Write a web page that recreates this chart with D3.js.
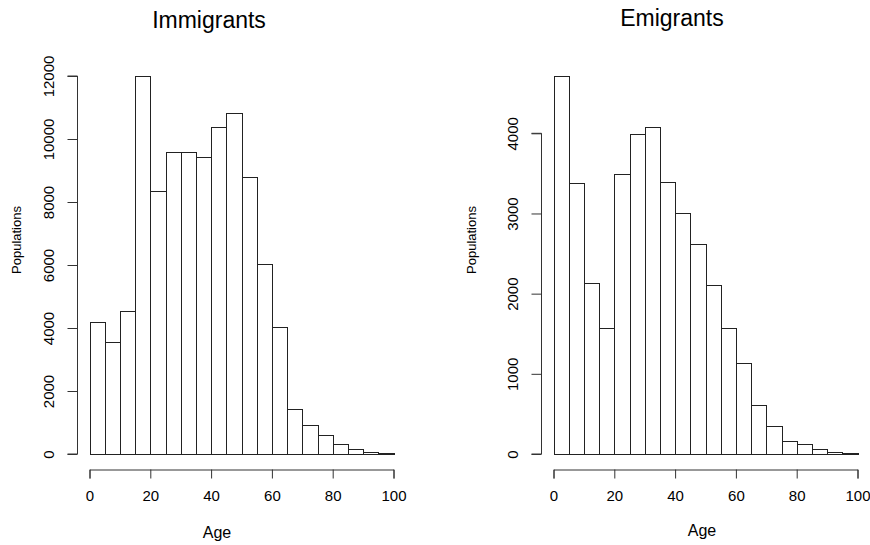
<!DOCTYPE html>
<html>
<head>
<meta charset="utf-8">
<script src="https://cdn.jsdelivr.net/npm/d3@7"></script>
<style>
  body { margin: 0; background: #fff; }
  svg text { font-family: "Liberation Sans", Arial, sans-serif; fill: #000; }
</style>
</head>
<body>
<svg id="chart"></svg>
<script>
const ageBreaks = [0,5,10,15,20,25,30,35,40,45,50,55,60,65,70,75,80,85,90,95,100,105];
const immigrants = [4200,3565,4550,12000,8360,9575,9575,9420,10390,10815,8805,6020,4040,1440,910,590,305,150,75,30,0];
const emigrants = [4713,3383,2128,1567,3495,3986,4073,3395,3001,2622,2103,1567,1130,607,345,166,121,58,29,12,0];
const xTicks = [0,20,40,60,80,100];
const immTicks = [0,2000,4000,6000,8000,10000,12000];
const emiTicks = [0,1000,2000,3000,4000];

const W = 870, H = 545;
const svg = d3.select("#chart").attr("width", W).attr("height", H);

const panels = [
  {title: "Immigrants", counts: immigrants, yTicks: immTicks, yMax: 12000, yTop: 76,
   x0: 89.5, x1: 393.5, axisX: 77, titleX: 209, titleY: 28, ageX: 217, ageY: 538, popX: 21},
  {title: "Emigrants", counts: emigrants, yTicks: emiTicks, yMax: 4000, yTop: 133.3,
   x0: 553.5, x1: 857.5, axisX: 541, titleX: 672, titleY: 26, ageX: 702, ageY: 536, popX: 476}
];

const y0 = 454;

panels.forEach(p => {
  const g = svg.append("g");
  const xScale = d3.scaleLinear().domain([0, 100]).range([p.x0, p.x1]);
  const yScale = d3.scaleLinear().domain([0, p.yMax]).range([y0, p.yTop]);

  const bins = p.counts.map((c, i) => ({lo: ageBreaks[i], hi: ageBreaks[i + 1], c: c}));

  // histogram bars
  g.selectAll("rect.bar")
    .data(bins)
    .enter()
    .append("rect")
    .attr("class", "bar")
    .attr("x", d => Math.round(xScale(d.lo)) + 0.5)
    .attr("y", d => Math.round(yScale(d.c)) + 0.5)
    .attr("width", d => Math.round(xScale(d.hi)) - Math.round(xScale(d.lo)))
    .attr("height", d => Math.round(yScale(0)) - Math.round(yScale(d.c)))
    .attr("fill", "#fff")
    .attr("stroke", "#222")
    .attr("stroke-width", 1);

  // x axis (R style, detached)
  const xAxis = d3.axisBottom(xScale).tickValues(xTicks).tickSize(9).tickPadding(12).tickFormat(d3.format("d"));
  const xg = g.append("g")
    .attr("transform", "translate(0,469.5)")
    .call(xAxis);
  xg.selectAll("text").style("font-size", "15px");
  xg.selectAll("line, path").attr("stroke", "#333");

  // y axis
  const yAxis = d3.axisLeft(yScale).tickValues(p.yTicks).tickSize(10).tickFormat(d3.format("d"));
  const yg = g.append("g")
    .attr("transform", `translate(${p.axisX + 0.5},0)`)
    .call(yAxis);
  yg.select("path.domain").attr("d", `M-10,${yScale(p.yTicks[p.yTicks.length - 1])}H0V${y0}H-10`);
  yg.selectAll("line, path").attr("stroke", "#333");
  yg.selectAll("text")
    .style("font-size", "15px")
    .attr("x", 0)
    .attr("y", 0)
    .attr("dy", "0.35em")
    .attr("text-anchor", "middle")
    .attr("transform", "translate(-29,0) rotate(-90)");

  // titles and labels
  g.append("text")
    .attr("x", p.titleX).attr("y", p.titleY)
    .attr("text-anchor", "middle")
    .style("font-size", "23px")
    .text(p.title);

  g.append("text")
    .attr("x", p.ageX).attr("y", p.ageY)
    .attr("text-anchor", "middle")
    .style("font-size", "16px")
    .text("Age");

  g.append("text")
    .attr("transform", `translate(${p.popX},240) rotate(-90)`)
    .attr("text-anchor", "middle")
    .style("font-size", "13px")
    .text("Populations");
});
</script>
</body>
</html>
